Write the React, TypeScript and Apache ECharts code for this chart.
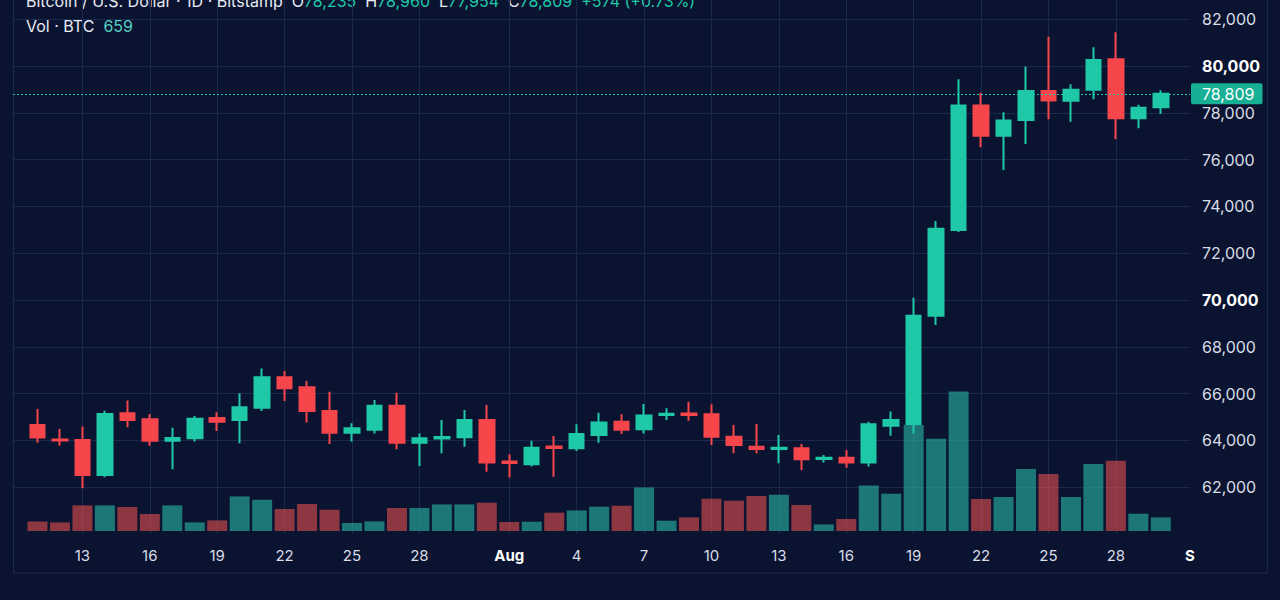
import React, { useEffect, useRef } from 'react';
import * as echarts from 'echarts';

// ---------- data ----------
const dates = [
  '2024-07-11', '2024-07-12', '2024-07-13', '2024-07-14', '2024-07-15', '2024-07-16', '2024-07-17',
  '2024-07-18', '2024-07-19', '2024-07-20', '2024-07-21', '2024-07-22', '2024-07-23', '2024-07-24',
  '2024-07-25', '2024-07-26', '2024-07-27', '2024-07-28', '2024-07-29', '2024-07-30', '2024-07-31',
  '2024-08-01', '2024-08-02', '2024-08-03', '2024-08-04', '2024-08-05', '2024-08-06', '2024-08-07',
  '2024-08-08', '2024-08-09', '2024-08-10', '2024-08-11', '2024-08-12', '2024-08-13', '2024-08-14',
  '2024-08-15', '2024-08-16', '2024-08-17', '2024-08-18', '2024-08-19', '2024-08-20', '2024-08-21',
  '2024-08-22', '2024-08-23', '2024-08-24', '2024-08-25', '2024-08-26', '2024-08-27', '2024-08-28',
  '2024-08-29', '2024-08-30',
];
const opens = [
  64660, 64040, 64020, 62520, 65160, 64900, 63980, 64090, 64960, 64870, 65400, 66700, 66270, 65260,
  64330, 64450, 65480, 63900, 64080, 64130, 64870, 63100, 62980, 63740, 63660, 64230, 64800, 64480,
  65090, 65150, 65120, 64160, 63730, 63630, 63660, 63210, 63260, 63060, 64630, 64700, 69330, 72990,
  78310, 77020, 77690, 78930, 78510, 78980, 80290, 77770, 78235,
];
const highs = [
  65340, 64490, 64590, 65270, 65700, 65130, 64540, 65040, 65200, 66010, 67070, 66970, 66540, 66080,
  64730, 65730, 66040, 64300, 64870, 65300, 65510, 63410, 63990, 64190, 64690, 65180, 65120, 65560,
  65370, 65650, 65540, 64660, 64700, 64230, 63850, 63380, 63590, 64800, 65230, 70100, 73380, 79430,
  78860, 78020, 79970, 81250, 79220, 80800, 81440, 78340, 78960,
];
const lows = [
  63900, 63770, 61950, 62420, 64560, 63770, 62770, 63950, 64400, 63880, 65260, 65680, 64760, 63850,
  63950, 64300, 63620, 62910, 63450, 63730, 62660, 62410, 62880, 62450, 63550, 63900, 64270, 64300,
  64870, 64840, 63800, 63450, 63450, 63020, 62740, 63060, 62830, 62880, 64200, 64300, 68930, 72910,
  76530, 75560, 76670, 77720, 77620, 78580, 76870, 77340, 77954,
];
const closes = [
  64120, 64000, 62520, 65130, 64870, 63990, 64100, 64930, 64800, 65420, 66700, 66230, 65260, 64330,
  64520, 65480, 63900, 64090, 64150, 64870, 63060, 63030, 63690, 63680, 64270, 64770, 64450, 65060,
  65140, 65090, 64160, 63800, 63630, 63690, 63190, 63260, 63060, 64690, 64870, 69330, 73040, 78310,
  77020, 77670, 78930, 78520, 78980, 80260, 77770, 78220, 78809,
];
const volumes = [
  466, 417, 1242, 1242, 1164, 825, 1242, 417, 514, 1678, 1518, 1067, 1310, 1033,
  388, 466, 1116, 1116, 1290, 1290, 1373, 437, 451, 888, 999, 1179, 1227, 2115,
  500, 660, 1567, 1470, 1698, 1761, 1261, 320, 582, 2212, 1809, 5141, 4477, 6771,
  1552, 1649, 3007, 2765, 1649, 3250, 3410, 839, 659,
];

const tickDates = [
  '2024-07-13', '2024-07-16', '2024-07-19', '2024-07-22', '2024-07-25', '2024-07-28', '2024-08-01',
  '2024-08-04', '2024-08-07', '2024-08-10', '2024-08-13', '2024-08-16', '2024-08-19', '2024-08-22',
  '2024-08-25', '2024-08-28', '2024-09-01',
];
const tickLabels = ['13', '16', '19', '22', '25', '28', 'Aug', '4', '7', '10', '13', '16', '19', '22', '25', '28', 'S'];
const boldTickLabels = ['Aug', 'S'];

const PRICE_MIN = 60000;
const PRICE_MAX = 82820;
const PRICE_STEP = 2000;
const boldPrices = [70000, 80000];
const VOLUME_MAX = 9700;

// ---------- style ----------
const BG = '#0a1330';
const GRID = '#1a2950';
const UP = '#1fc9a8';
const DOWN = '#f6464b';
const UP_VOL = 'rgba(38,166,154,0.68)';
const DOWN_VOL = 'rgba(239,83,80,0.57)';
const TAG = '#18b094';
const TEXT = '#d9dde6';
const FONT = 'Inter, Roboto, sans-serif';

const ORIGIN = Date.parse('2024-07-10');
const dayIndex = (d: string) => Math.round((Date.parse(d) - ORIGIN) / 86400000);
const X_MIN = -0.09;
const X_MAX = 52.3;

const fmt = (n: number) => n.toLocaleString('en-US');

export default function App() {
  const ref = useRef<HTMLDivElement>(null);

  useEffect(() => {
    if (!ref.current) return;
    const chart = echarts.init(ref.current, null, { renderer: 'svg' });

    const candleData = dates.map((d, i) => [dayIndex(d), opens[i], closes[i], lows[i], highs[i]]);
    const volumeData = dates.map((d, i) => ({
      value: [dayIndex(d), volumes[i]],
      itemStyle: { color: closes[i] >= opens[i] ? UP_VOL : DOWN_VOL },
    }));

    const tickPos = tickDates.map((d) => Math.min(dayIndex(d), X_MAX));
    const labelFor = (v: number) => {
      const k = tickPos.findIndex((p) => Math.abs(p - v) < 0.001);
      if (k < 0) return '';
      const lab = tickLabels[k];
      return boldTickLabels.includes(lab) ? `{b|${lab}}` : lab;
    };
    const gridLinePos = tickPos.filter((p) => p < X_MAX);

    const last = dates.length - 1;
    const o = opens[last], h = highs[last], l = lows[last], c = closes[last];
    const chg = c - o;
    const pct = (chg / o) * 100;
    const chgText = `${chg >= 0 ? '+' : ''}${fmt(chg)} (${pct >= 0 ? '+' : ''}${pct.toFixed(2)}%)`;

    const option: any = {
      animation: false,
      backgroundColor: BG,
      textStyle: { fontFamily: FONT },
      grid: [
        { left: 13, right: 90, top: 0, height: 534, outerBoundsMode: 'none', containLabel: false },
        { left: 13, right: 90, top: 331, height: 200, outerBoundsMode: 'none', containLabel: false },
      ],
      xAxis: [
        {
          type: 'value',
          gridIndex: 0,
          min: X_MIN,
          max: X_MAX,
          axisLine: { show: false },
          axisTick: { show: false },
          splitLine: { show: false },
          axisLabel: {
            customValues: tickPos,
            formatter: labelFor,
            color: TEXT,
            fontSize: 15,
            fontFamily: FONT,
            margin: 14,
            rich: { b: { fontWeight: 'bold', color: '#ffffff', fontSize: 15, fontFamily: FONT } },
          },
        },
        { type: 'value', gridIndex: 1, min: X_MIN, max: X_MAX, show: false },
      ],
      yAxis: [
        {
          type: 'value',
          gridIndex: 0,
          position: 'right',
          min: PRICE_MIN,
          max: PRICE_MAX,
          interval: PRICE_STEP,
          axisLine: { show: false },
          axisTick: { show: false },
          splitLine: { show: true, showMinLine: false, showMaxLine: false, lineStyle: { color: GRID, width: 1 } },
          axisLabel: {
            showMinLabel: false,
            showMaxLabel: false,
            margin: 12,
            color: TEXT,
            fontSize: 16,
            fontFamily: FONT,
            formatter: (v: number) => {
              if (v % PRICE_STEP !== 0 || v === PRICE_MIN) return '';
              return boldPrices.includes(v) ? `{b|${fmt(v)}}` : fmt(v);
            },
            rich: { b: { fontWeight: 'bold', color: '#ffffff', fontSize: 16, fontFamily: FONT } },
          },
        },
        { type: 'value', gridIndex: 1, min: 0, max: VOLUME_MAX, show: false },
      ],
      series: [
        {
          type: 'line',
          xAxisIndex: 0,
          yAxisIndex: 0,
          data: [],
          silent: true,
          z: 1,
          markLine: {
            z: 1,
            silent: true,
            symbol: ['none', 'none'],
            label: { show: false },
            lineStyle: { color: GRID, type: 'solid', width: 1 },
            emphasis: { disabled: true },
            data: gridLinePos.map((p) => ({ xAxis: p })),
          },
        },
        {
          type: 'bar',
          xAxisIndex: 1,
          yAxisIndex: 1,
          barWidth: 20,
          data: volumeData,
          z: 2,
          markLine: {
            silent: true,
            symbol: ['none', 'none'],
            lineStyle: { opacity: 0 },
            emphasis: { disabled: true },
            label: {
              position: 'end',
              distance: 1,
              formatter: () => fmt(volumes[last]),
              color: '#ffffff',
              backgroundColor: TAG,
              borderRadius: 2,
              padding: [3, 10, 2, 11],
              fontSize: 16,
              fontFamily: FONT,
            },
            data: [{ yAxis: volumes[last] }],
          },
        },
        {
          type: 'candlestick',
          xAxisIndex: 0,
          yAxisIndex: 0,
          barWidth: 15,
          data: candleData,
          z: 3,
          itemStyle: {
            color: UP,
            color0: DOWN,
            borderColor: UP,
            borderColor0: DOWN,
            borderWidth: 2,
          },
          markLine: {
            silent: true,
            symbol: ['none', 'none'],
            emphasis: { disabled: true },
            lineStyle: { color: UP, type: [2, 2], width: 1, opacity: 1 },
            label: {
              position: 'end',
              distance: 1,
              formatter: () => fmt(c),
              color: '#ffffff',
              backgroundColor: TAG,
              borderRadius: 2,
              padding: [3, 8, 2, 11],
              fontSize: 16,
              fontFamily: FONT,
            },
            data: [{ yAxis: c }],
          },
        },
      ],
      graphic: [
        {
          type: 'rect',
          silent: true,
          z: -1,
          shape: { x: 13.5, y: -2, width: 1254, height: 575 },
          style: { fill: 'none', stroke: GRID, lineWidth: 1 },
        },
        {
          type: 'text',
          x: 26,
          y: 1,
          silent: true,
          style: {
            text: `Bitcoin / U.S. Dollar · 1D · Bitstamp  O{v|${fmt(o)}}  H{v|${fmt(h)}}  L{v|${fmt(l)}}  C{v|${fmt(c)}}  {v|${chgText}}`,
            fill: '#e8ebf2',
            fontSize: 16,
            fontFamily: FONT,
            verticalAlign: 'middle',
            rich: { v: { fill: UP, fontSize: 16, fontFamily: FONT } },
          },
        },
        {
          type: 'text',
          x: 26,
          y: 26,
          silent: true,
          style: {
            text: `Vol · BTC  {v|${fmt(volumes[last])}}`,
            fill: '#e8ebf2',
            fontSize: 16,
            fontFamily: FONT,
            verticalAlign: 'middle',
            rich: { v: { fill: '#52d0c3', fontSize: 16, fontFamily: FONT } },
          },
        },
      ],
    };

    chart.setOption(option);
    return () => chart.dispose();
  }, []);

  return (
    <div
      ref={ref}
      style={{ position: 'fixed', left: 0, top: 0, width: 1280, height: 600, background: BG }}
    />
  );
}
